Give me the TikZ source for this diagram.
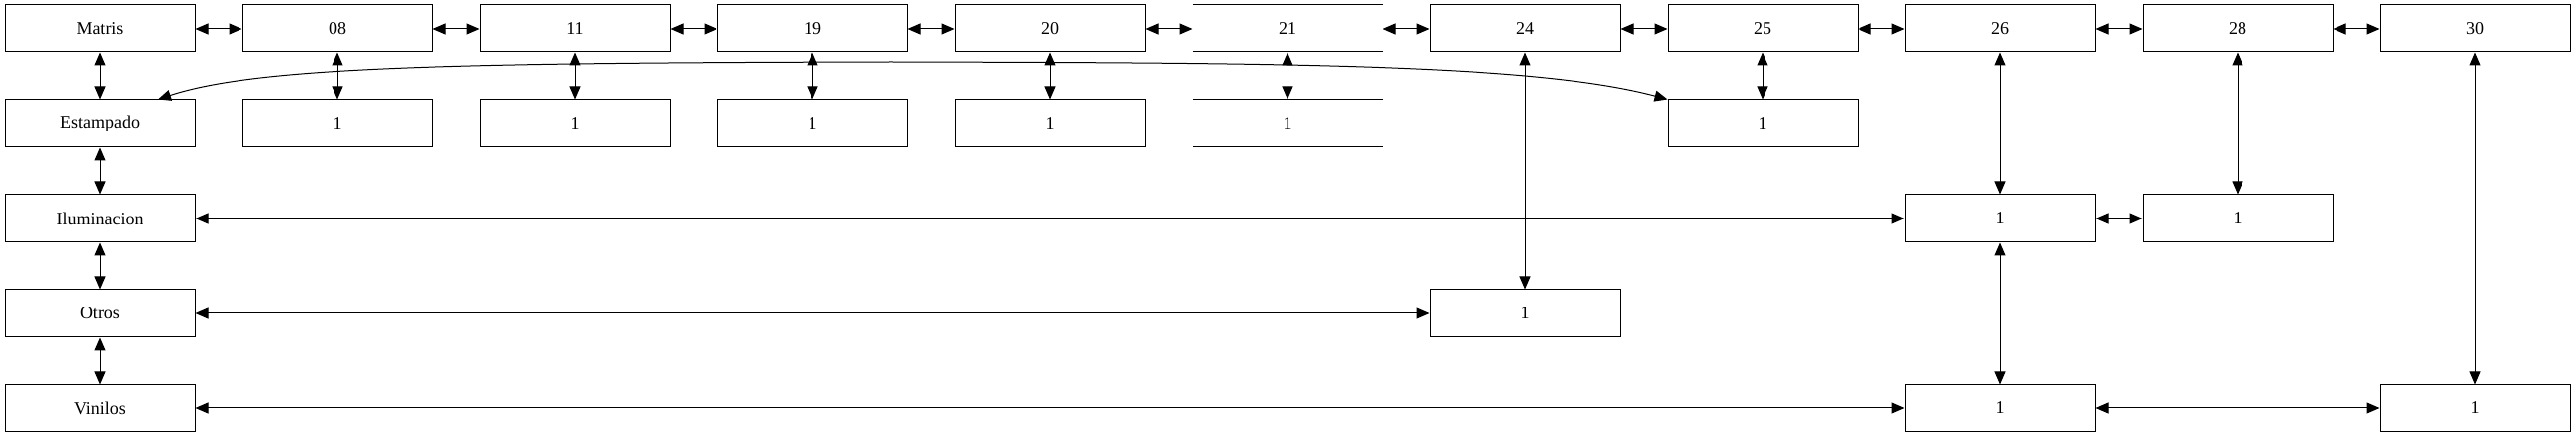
\documentclass[tikz,border=0pt]{standalone}
\usepackage{fontspec}
\setmainfont{Liberation Serif}
\usetikzlibrary{positioning,arrows.meta}

\begin{document}
\begin{tikzpicture}
[
  x=1pt,
  y=-1pt,
  box/.style={rectangle, draw, line width=1pt, minimum width=192pt, minimum height=48pt, inner sep=0pt},
  link/.style={<->, >={Triangle[length=13pt,width=11pt]}, line width=1pt},
  node distance=96pt and 240pt,
  on grid,
  font=\fontsize{18pt}{20pt}\selectfont
]
 \useasboundingbox (0,0) rectangle (2603,443);

 \node[box] (matris) at (101,29) {Matris};
 \node[box] (t08) [right=of matris] {08};
 \node[box] (t11) [right=of t08] {11};
 \node[box] (t19) [right=of t11] {19};
 \node[box] (t20) [right=of t19] {20};
 \node[box] (t21) [right=of t20] {21};
 \node[box] (t24) [right=of t21] {24};
 \node[box] (t25) [right=of t24] {25};
 \node[box] (t26) [right=of t25] {26};
 \node[box] (t28) [right=of t26] {28};
 \node[box] (t30) [right=of t28] {30};

 \node[box] (estampado) [below=of matris] {Estampado};
 \node[box] (iluminacion) [below=of estampado] {Iluminacion};
 \node[box] (otros) [below=of iluminacion] {Otros};
 \node[box] (vinilos) [below=of otros] {Vinilos};

 \node[box] (e08) [below=of t08] {1};
 \node[box] (e11) [below=of t11] {1};
 \node[box] (e19) [below=of t19] {1};
 \node[box] (e20) [below=of t20] {1};
 \node[box] (e21) [below=of t21] {1};
 \node[box] (e25) [below=of t25] {1};
 \node[box] (i26) [below=192pt of t26] {1};
 \node[box] (i28) [below=192pt of t28] {1};
 \node[box] (o24) [below=288pt of t24] {1};
 \node[box] (v26) [below=192pt of i26] {1};
 \node[box] (v30) [below=384pt of t30] {1};

  \path[link]
    (matris) edge (t08)
    (t08) edge (t11)
    (t11) edge (t19)
    (t19) edge (t20)
    (t20) edge (t21)
    (t21) edge (t24)
    (t24) edge (t25)
    (t25) edge (t26)
    (t26) edge (t28)
    (t28) edge (t30)
    (matris) edge (estampado)
    (estampado) edge (iluminacion)
    (iluminacion) edge (otros)
    (otros) edge (vinilos)
    (t08) edge (e08)
    (t11) edge (e11)
    (t19) edge (e19)
    (t20) edge (e20)
    (t21) edge (e21)
    (t25) edge (e25)
    (t24) edge (o24)
    (t26) edge (i26)
    (t28) edge (i28)
    (t30) edge (v30)
    (iluminacion) edge (i26)
    (i26) edge (i28)
    (otros) edge (o24)
    (i26) edge (v26)
    (vinilos) edge (v26)
    (v26) edge (v30);

  \draw[link] ([xshift=59pt]estampado.north) .. controls (260,68) and (450,64) .. (900,63)
    .. controls (1300,64) and (1550,65) .. (e25.north west);
\end{tikzpicture}
\end{document}
